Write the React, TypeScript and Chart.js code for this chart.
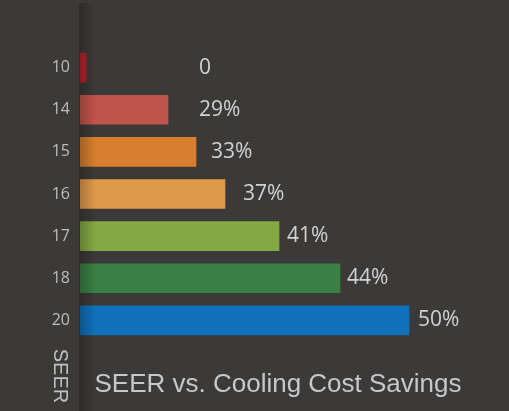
import React, { useEffect, useRef } from "react";
import { Chart, registerables } from "chart.js";

Chart.register(...registerables);

const categories = ["10", "14", "15", "16", "17", "18", "20"];
const barValues = [6, 88, 116, 145, 199, 260, 329];
const savingsLabels = ["0", "29%", "33%", "37%", "41%", "44%", "50%"];
const labelPositions = [119, 119, 131, 163, 207, 267, 338];
const barColors = ["#b8232a", "#c0544b", "#d77f2e", "#e09a4b", "#84a843", "#3a8045", "#1071bb"];
const axisTitle = "SEER";
const chartTitle = "SEER vs. Cooling Cost Savings";

const BG = "#3c3a38";

const decorPlugin = {
  id: "decor",
  beforeDraw(chart: any) {
    const { ctx, width, height } = chart;
    ctx.save();
    ctx.fillStyle = BG;
    ctx.fillRect(0, 0, width, height);
    ctx.restore();
  },
  afterDatasetsDraw(chart: any) {
    const { ctx, chartArea, scales, height } = chart;
    const meta = chart.getDatasetMeta(0);
    ctx.save();
    // left shadow strip
    const g = ctx.createLinearGradient(chartArea.left - 1, 0, chartArea.left + 16, 0);
    g.addColorStop(0, "rgba(0,0,0,0.25)");
    g.addColorStop(1, "rgba(0,0,0,0)");
    ctx.fillStyle = g;
    ctx.fillRect(chartArea.left - 1, 3, 17, height - 3);
    // value labels
    ctx.fillStyle = "#d2d2d2";
    ctx.font = "21px 'Open Sans'";
    ctx.textAlign = "left";
    ctx.textBaseline = "middle";
    meta.data.forEach((bar: any, i: number) => {
      const x = scales.x.getPixelForValue(labelPositions[i]);
      ctx.fillText(savingsLabels[i], x, bar.y);
    });
    // chart title
    ctx.fillStyle = "#c8c8c8";
    ctx.font = "26px 'Liberation Sans'";
    ctx.textAlign = "center";
    ctx.textBaseline = "middle";
    ctx.fillText(chartTitle, (chartArea.left + chartArea.right) / 2, 385);
    // vertical axis title
    ctx.translate(60, 376);
    ctx.rotate(Math.PI / 2);
    ctx.fillStyle = "#c0c0c0";
    ctx.font = "20px 'Liberation Sans'";
    ctx.fillText(axisTitle, 0, 0);
    ctx.restore();
  },
};

export default function App() {
  const ref = useRef<HTMLCanvasElement>(null);
  useEffect(() => {
    document.body.style.margin = "0";
    document.body.style.background = BG;
    const chart = new Chart(ref.current!, {
      type: "bar",
      data: {
        labels: categories,
        datasets: [
          {
            data: barValues,
            backgroundColor: barColors,
            borderWidth: 0,
            barThickness: 29,
          },
        ],
      },
      options: {
        indexAxis: "y",
        responsive: false,
        animation: false,
        devicePixelRatio: 1,
        layout: { padding: { top: 46.5, bottom: 69.5, right: 33, left: 0 } },
        plugins: { legend: { display: false }, tooltip: { enabled: false }, title: { display: false } },
        scales: {
          x: { display: false, min: 0, max: 396 },
          y: {
            grid: { display: false, drawTicks: false },
            border: { display: false },
            ticks: { color: "#bdbdbd", font: { family: "'Open Sans'", size: 16 }, padding: 10 },
            afterFit: (s: any) => {
              s.width = 80;
            },
          },
        },
      },
      plugins: [decorPlugin],
    });
    return () => chart.destroy();
  }, []);
  return (
    <div style={{ position: "fixed", left: 0, top: 0, width: 509, height: 411, background: BG }}>
      <canvas ref={ref} width={509} height={411} />
    </div>
  );
}
